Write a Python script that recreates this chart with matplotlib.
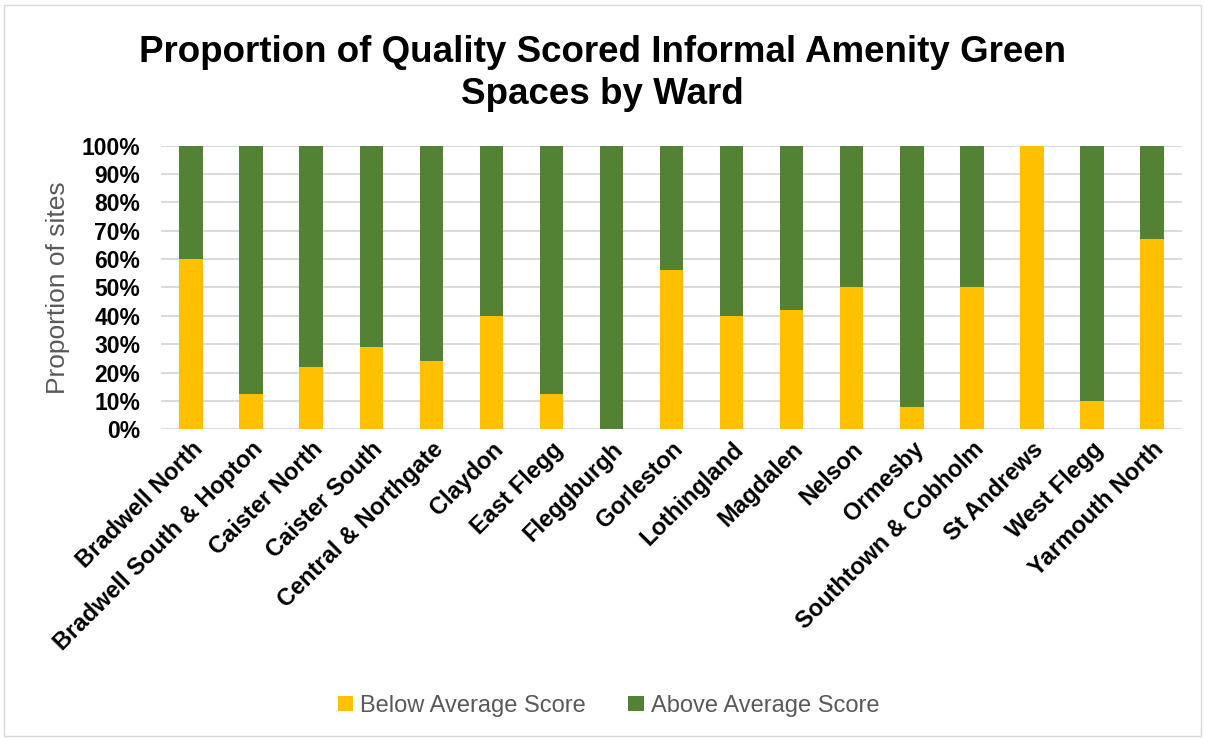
import numpy as np
import matplotlib
matplotlib.use('Agg')
import matplotlib.pyplot as plt
from matplotlib.patches import Rectangle
from matplotlib.ticker import PercentFormatter

plt.rcParams['font.family'] = ['Liberation Sans', 'DejaVu Sans']

wards = ['Bradwell North', 'Bradwell South & Hopton', 'Caister North', 'Caister South',
         'Central & Northgate', 'Claydon', 'East Flegg', 'Fleggburgh', 'Gorleston',
         'Lothingland', 'Magdalen', 'Nelson', 'Ormesby', 'Southtown & Cobholm',
         'St Andrews', 'West Flegg', 'Yarmouth North']
below_avg = [60, 12.5, 22, 29, 24, 40, 12.5, 0, 56, 40, 42, 50, 8, 50, 100, 10, 67]
above_avg = [100 - v for v in below_avg]

yellow = '#FFC000'
green = '#548235'

fig = plt.figure(figsize=(12.05, 7.38), dpi=100)
ax = fig.add_axes([0.1336, 0.4183, 0.8474, 0.3843])

x = np.arange(len(wards))
ax.bar(x, below_avg, width=0.39, color=yellow, label='Below Average Score', zorder=3)
ax.bar(x, above_avg, width=0.39, bottom=below_avg, color=green,
       label='Above Average Score', zorder=3)

ax.set_xlim(-0.5, len(wards) - 0.5)
ax.set_ylim(0, 100)
ax.set_yticks(np.arange(0, 101, 10))
ax.yaxis.set_major_formatter(PercentFormatter(decimals=0))
ax.grid(axis='y', color='#d9d9d9', linewidth=1.4, zorder=0)
for s in ax.spines.values():
    s.set_visible(False)
ax.tick_params(axis='both', length=0)
ax.tick_params(axis='y', pad=15)
ax.tick_params(axis='x', pad=6)
ax.set_xticks(x)
ax.set_xticklabels(wards, rotation=45, ha='right', rotation_mode='anchor',
                   fontsize=17, fontweight='bold')
for lbl in ax.get_yticklabels():
    lbl.set_fontsize(16.5)
    lbl.set_fontweight('bold')
ax.set_ylabel('Proportion of sites', fontsize=19, color='#595959', labelpad=8)

fig.suptitle('Proportion of Quality Scored Informal Amenity Green\nSpaces by Ward',
             fontsize=26.5, fontweight='bold', y=0.952, linespacing=1.25)

fig.legend(loc='lower center', bbox_to_anchor=(0.505, 0.0), ncol=2, frameon=False,
           fontsize=17, handlelength=0.65, handleheight=0.65, handletextpad=0.3,
           columnspacing=1.8, labelcolor='#595959')

fig.patches.append(Rectangle((0.003, 0.003), 0.994, 0.99, transform=fig.transFigure,
                             fill=False, edgecolor='#d9d9d9', linewidth=1))

fig.savefig('out.png', dpi=100)
